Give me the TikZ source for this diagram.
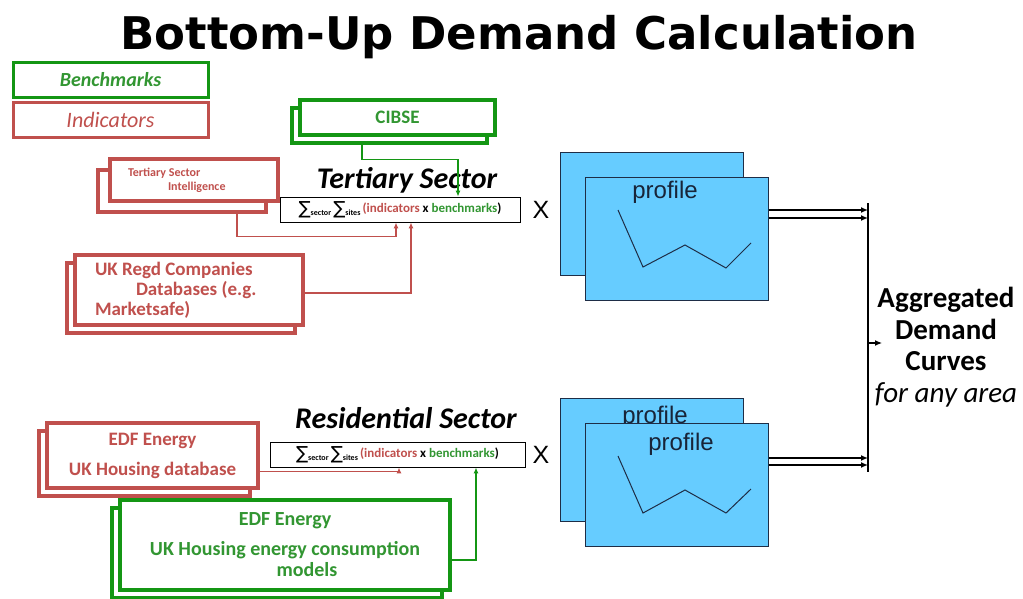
\documentclass[tikz,border=0pt]{standalone}
\usepackage{fontspec}
\setmainfont{Carlito}
\newfontfamily\arialfont{Liberation Sans}
\newfontfamily\titlefont{DejaVu Sans}
\usepackage{xcolor}
\usetikzlibrary{arrows.meta, positioning}

\definecolor{bmgreen}{RGB}{20,150,20}
\definecolor{bmtext}{RGB}{50,150,50}
\definecolor{indred}{RGB}{192,80,77}
\definecolor{profblue}{RGB}{102,204,255}
\definecolor{profedge}{RGB}{30,45,70}
\newcommand{\fsz}[2]{\fontsize{#1}{#2}\selectfont}
\newcommand{\sumover}[1]{{\titlefont\mdseries\fsz{18}{18}\raisebox{-2pt}{∑}}\raisebox{-3pt}{\fsz{8}{8}\bfseries #1}}
\newcommand{\sumterm}{\sumover{sector}\,\sumover{sites}}

\begin{document}
\begin{tikzpicture}[x=1pt, y=-1pt,
    greenbox/.style={draw=bmgreen, line width=3pt, fill=white, inner sep=0pt},
    redbox/.style={draw=indred, line width=3pt, fill=white, inner sep=0pt},
    gstack/.style={draw=bmgreen, line width=4pt, fill=white, inner sep=0pt, text=bmtext, font=\bfseries\fsz{19}{21}},
    rstack/.style={draw=indred, line width=4pt, fill=white, inner sep=0pt, text=indred, font=\bfseries\fsz{19}{20}},
    formbox/.style={draw=black, line width=0.8pt, fill=white, inner sep=0pt, minimum height=25pt, font=\bfseries\fsz{13}{14}},
    sectlabel/.style={font=\bfseries\itshape\fsz{30}{32}},
    profbox/.style={draw=profedge, line width=1pt, fill=profblue, minimum width=183pt, minimum height=123pt},
    proftext/.style={font=\arialfont\fsz{24}{26}, text=profedge!80!black},
    timesx/.style={font=\arialfont\fsz{25}{25}},
    gline/.style={draw=bmgreen, line width=1.2pt, -{Latex[length=6pt,width=5pt]}},
    rline/.style={draw=indred, line width=1.2pt, -{Latex[length=6pt,width=5pt]}},
    bline/.style={draw=black, line width=1.6pt, -{Latex[length=7pt,width=6pt]}}]
\useasboundingbox (0,0) rectangle (1023,598);

\node[font=\titlefont\bfseries\fsz{45}{50}, anchor=base] (title) at (519,49) {Bottom-Up Demand Calculation};

\node[greenbox, minimum width=195pt, minimum height=35pt, text=bmtext, font=\bfseries\itshape\fsz{20}{22}] (bench) at (110.5,79.5) {Benchmarks};
\node[redbox, minimum width=195pt, minimum height=35pt, text=indred, font=\itshape\fsz{22}{24}] (ind) at (110.5,120) {Indicators};

% tertiary sector
\node[gstack, minimum width=195pt, minimum height=35pt] (cibseback) at (389.5,125) {};
\node[gstack, minimum width=195pt, minimum height=35pt] (cibse) at (397.5,117.5) {CIBSE};
\node[rstack, minimum width=168pt, minimum height=42pt] (tsiback) at (182,191) {};
\node[rstack, minimum width=168pt, minimum height=42pt, text width=150pt, align=flush left, font=\bfseries\fsz{12}{14}] (tsi) at (194,180) {\hspace*{9pt}Tertiary Sector\\\hspace*{49pt}Intelligence};
\node[rstack, minimum width=228pt, minimum height=70pt] (ukregdback) at (181,298) {};
\node[rstack, minimum width=228pt, minimum height=70pt, text width=200pt, align=flush left] (ukregd) at (189,290) {\hspace*{6pt}UK Regd Companies\\\hspace*{47pt}Databases (e.g.\\\hspace*{6pt}Marketsafe)};

\node[sectlabel] (tlabel) at (407,180) {Tertiary Sector};
\node[formbox, minimum width=240pt] (tform) at (400,209.5) {\sumterm\,\textcolor{indred}{(indicators} x \textcolor{bmtext}{benchmarks})};

\draw[gline] ([xshift=-27.5pt]cibseback.south) |- ([xshift=58pt,yshift=37pt]tform.north) -- ([xshift=58pt]tform.north);
\draw[rline] ([xshift=55pt]tsiback.south) |- ([xshift=-4pt,yshift=-14pt]tform.south) -- ([xshift=-4pt]tform.south);
\draw[rline] ([yshift=-3pt]ukregd.east) -| ([xshift=11pt]tform.south);

\node[timesx] (tx) at (541,210) {X};
\node[profbox] (tprofback) at (651.5,213.5) {};
\node[profbox] (tprof) at (676.5,239) {};
\node[proftext] (tproftext) at (665,192) {profile};
\draw[profedge, line width=1pt] (618,210) -- (643,267) -- (685,245) -- (726,268) -- (751,243);

% residential sector
\node[rstack, minimum width=211pt, minimum height=65pt] (edfredback) at (144.5,463.5) {};
\node[rstack, minimum width=211pt, minimum height=65pt, align=center, font=\bfseries\fsz{19}{30}] (edfred) at (152.5,455.5) {EDF Energy\\UK Housing database};
\node[gstack, minimum width=330pt, minimum height=90pt] (edfgreenback) at (277,553) {};
\node[gstack, minimum width=330pt, minimum height=90pt, align=center, font=\bfseries\fsz{20}{21}] (edfgreen) at (285,545) {EDF Energy\\[9pt]UK Housing energy consumption\\\hspace*{44pt}models};

\node[sectlabel] (rlabel) at (406,418) {Residential Sector};
\node[formbox, minimum width=255pt] (rform) at (397.5,454.5) {\sumterm\,\textcolor{indred}{(indicators} x \textcolor{bmtext}{benchmarks})};

\draw[rline] ([yshift=-16pt]edfred.east) -| ([xshift=1.5pt]rform.south);
\draw[gline] ([yshift=-15pt]edfgreen.east) -| ([xshift=78.5pt]rform.south);

\node[timesx] (rx) at (541,455) {X};
\node[profbox] (rprofback) at (651.5,460) {};
\node[proftext] (rprofbacktext) at (655,417) {profile};
\node[profbox] (rprof) at (676.5,485) {};
\node[proftext] (rproftext) at (681,444) {profile};
\draw[profedge, line width=1pt] (618,456) -- (643,513) -- (685,490) -- (726,513) -- (751,489);

% aggregation
\coordinate (bartop) at (868,203);
\coordinate (barbot) at (868,472);
\coordinate (barmid) at (868,343);
\draw[line width=2pt] (bartop) -- (barbot);
\draw[bline] ([yshift=29pt]tprof.east) -- ([yshift=29pt]tprof.east -| bartop);
\draw[bline] ([yshift=21pt]tprof.east) -- ([yshift=21pt]tprof.east -| bartop);
\draw[bline] ([yshift=27pt]rprof.east) -- ([yshift=27pt]rprof.east -| bartop);
\draw[bline] ([yshift=20pt]rprof.east) -- ([yshift=20pt]rprof.east -| bartop);
\node[align=center, font=\bfseries\fsz{29}{31.5}] (agg) at (946,347) {Aggregated\\Demand\\Curves\\{\mdseries\itshape for any area}};
\draw[bline, line width=1.2pt] (barmid) -- ++(14,0);
\end{tikzpicture}
\end{document}
